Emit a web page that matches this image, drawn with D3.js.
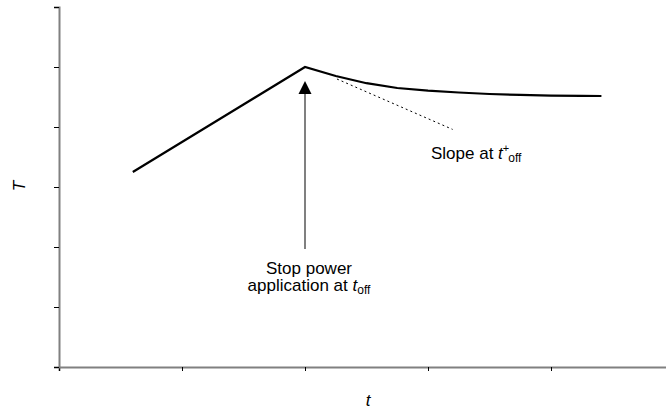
<!DOCTYPE html>
<html lang="en">
<head>
  <meta charset="utf-8">
  <title>Temperature vs time</title>
  <script src="https://d3js.org/d3.v7.min.js"></script>
  <style>
    body { margin: 0; padding: 0; background: #fff; }
    svg { display: block; }
    text { font-family: "Liberation Sans", Arial, sans-serif; fill: #000; }
  </style>
</head>
<body>
  <svg id="chart" width="666" height="415"></svg>

  <script>
    const width = 666;
    const height = 415;

    // heating phase (power on) and cooling phase after t_off
    const heatT = [0.6, 1.0, 1.5, 2.0];
    const heatY = [3.25, 3.75, 4.375, 5.0];
    const coolT = [2.0, 2.25, 2.5, 2.75, 3.0, 3.25, 3.5, 3.75, 4.0, 4.25, 4.41];
    const coolY = [5.0, 4.85, 4.73, 4.65, 4.605, 4.575, 4.55, 4.535, 4.522, 4.518, 4.517];
    // tangent at t+off
    const slopeT = [2.26, 3.2];
    const slopeY = [4.8, 3.96];
    const tOff = 2.0;
    const xTicks = [0, 1, 2, 3, 4, 5];
    const yTicks = [0, 1, 2, 3, 4, 5, 6];

    const svg = d3.select("#chart");

    const x = d3.scaleLinear().domain([0, 5]).range([59, 674]);
    const y = d3.scaleLinear().domain([0, 6]).range([367, 7]);

    // axes
    const xAxis = svg.append("g")
      .attr("transform", `translate(0,${y(0)})`)
      .call(d3.axisBottom(x).tickValues(xTicks).tickSize(4).tickFormat(""));
    xAxis.select(".domain").attr("stroke", "#808080").attr("stroke-width", 2);
    xAxis.selectAll(".tick line").attr("stroke", "#000");

    const yAxis = svg.append("g")
      .attr("transform", `translate(${x(0)},0)`)
      .call(d3.axisLeft(y).tickValues(yTicks).tickSize(5).tickFormat(""));
    yAxis.select(".domain").attr("stroke", "#808080").attr("stroke-width", 2);
    yAxis.selectAll(".tick line").attr("stroke", "#000");

    const line = d3.line().x(d => x(d[0])).y(d => y(d[1]));

    const heat = heatT.map((t, i) => [t, heatY[i]]);
    const cool = coolT.map((t, i) => [t, coolY[i]]);

    svg.append("path")
      .attr("d", line(heat.concat(cool.slice(1))))
      .attr("fill", "none")
      .attr("stroke", "#000")
      .attr("stroke-width", 2.2)
      .attr("stroke-linejoin", "miter");

    // dotted tangent
    svg.append("path")
      .attr("d", line(slopeT.map((t, i) => [t, slopeY[i]])))
      .attr("stroke", "#000")
      .attr("stroke-width", 1)
      .attr("stroke-dasharray", "2,3");

    // arrow marking t_off
    const ax = x(tOff);
    svg.append("line")
      .attr("x1", ax).attr("x2", ax)
      .attr("y1", 249).attr("y2", 92)
      .attr("stroke", "#808080")
      .attr("stroke-width", 2);
    svg.append("path")
      .attr("d", `M${ax},81L${ax - 6.5},94L${ax + 6.5},94Z`)
      .attr("fill", "#000");

    // annotations
    const note = svg.append("text")
      .attr("x", ax + 4)
      .attr("text-anchor", "middle")
      .style("font-size", "17px");
    note.append("tspan").attr("x", ax + 4).attr("y", 274).text("Stop power");
    const l2 = note.append("tspan").attr("x", ax + 4).attr("y", 291);
    l2.append("tspan").text("application at ");
    l2.append("tspan").style("font-style", "italic").text("t");
    l2.append("tspan").attr("dy", 3).style("font-size", "12px").text("off");

    const slope = svg.append("text")
      .attr("x", 431).attr("y", 159)
      .style("font-size", "17px");
    slope.append("tspan").text("Slope at ");
    slope.append("tspan").style("font-style", "italic").text("t");
    slope.append("tspan").attr("dy", -7).style("font-size", "11px").text("+");
    slope.append("tspan").attr("dy", 10).attr("dx", -1).style("font-size", "12px").text("off");

    // axis titles
    svg.append("text")
      .attr("transform", `translate(25,186) rotate(-90)`)
      .attr("text-anchor", "middle")
      .style("font-size", "17px")
      .style("font-style", "italic")
      .text("T");

    svg.append("text")
      .attr("x", 368).attr("y", 406)
      .attr("text-anchor", "middle")
      .style("font-size", "17px")
      .style("font-style", "italic")
      .text("t");
  </script>
</body>
</html>
